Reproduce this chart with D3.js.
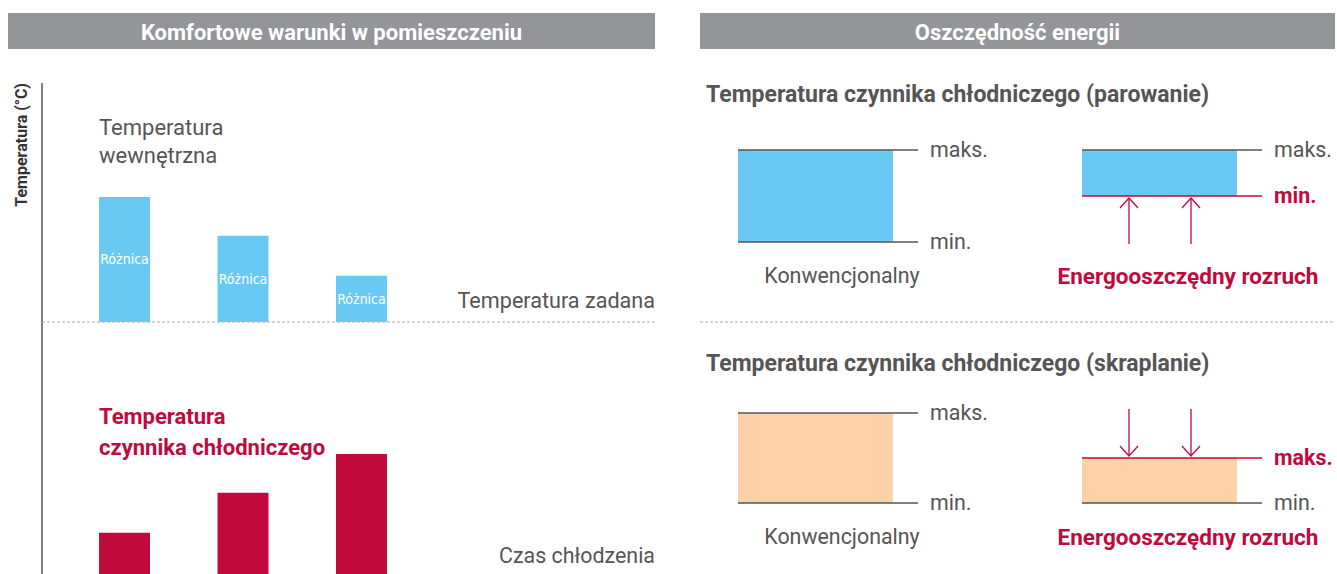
<!DOCTYPE html>
<html>
<head>
<meta charset="utf-8">
<script src="https://cdn.jsdelivr.net/npm/d3@7"></script>
<style>
  body { margin: 0; background: #fff; }
  svg { display: block; font-family: Roboto, "Noto Sans", sans-serif; }
</style>
</head>
<body>
<svg id="chart" width="1337" height="574"></svg>
<script>
// ---- data ----
const panelTitles = ['Komfortowe warunki w pomieszczeniu', 'Oszczędność energii'];
const steps = [0, 1, 2];
const indoorDiff = [100, 69, 37];        // blue bars above set point
const refrigTemp = [33, 65, 96];         // red bars, refrigerant temperature
const diffLabel = 'Różnica';

const modes = ['Konwencjonalny', 'Energooszczędny rozruch'];
const evapMin = [0, 5], evapMax = [10, 10];   // parowanie
const condMin = [0, 0], condMax = [10, 5];    // skraplanie
const sectionTitles = ['Temperatura czynnika chłodniczego (parowanie)',
                       'Temperatura czynnika chłodniczego (skraplanie)'];

const BLUE = '#69c9f2', RED = '#c1093c', PEACH = '#fdd2aa', GREY = '#555', HEAD = '#939598';

const svg = d3.select('#chart');

// ---- headers ----
const headers = [[8, 655], [700, 1335]];
headers.forEach((h, i) => {
  svg.append('rect').attr('x', h[0]).attr('y', 13).attr('width', h[1] - h[0]).attr('height', 36).attr('fill', HEAD);
  svg.append('text').attr('x', (h[0] + h[1]) / 2).attr('y', 40)
    .attr('text-anchor', 'middle').attr('fill', '#fff').attr('font-weight', 700).attr('font-size', 22)
    .text(panelTitles[i]);
});

// ---- left panel ----
const x = d3.scaleBand().domain(steps).range([31.5, 454.5]).padding(0.57);
const setY = 322;
const h = d3.scaleLinear().domain([0, 100]).range([0, 125]);

// axis
svg.append('line').attr('x1', 42).attr('x2', 42).attr('y1', 83).attr('y2', 574)
  .attr('stroke', '#555').attr('stroke-width', 1.5);
svg.append('text').attr('transform', 'translate(27,83) rotate(-90)').attr('text-anchor', 'end')
  .attr('font-size', 16).attr('font-weight', 700).attr('fill', '#333').text('Temperatura (°C)');

svg.append('line').attr('x1', 42).attr('x2', 655).attr('y1', setY).attr('y2', setY)
  .attr('stroke', '#aaa').attr('stroke-dasharray', '3,2');

svg.append('g').selectAll('rect').data(indoorDiff).join('rect')
  .attr('x', (d, i) => x(steps[i])).attr('width', x.bandwidth())
  .attr('y', d => setY - h(d)).attr('height', d => h(d)).attr('fill', BLUE);
svg.append('g').selectAll('text').data(indoorDiff).join('text')
  .attr('x', (d, i) => x(steps[i]) + x.bandwidth() / 2)
  .attr('y', d => setY - h(d) / 2).attr('dy', '0.35em').attr('text-anchor', 'middle')
  .attr('fill', '#fff').attr('font-size', 14).attr('font-family', '"Liberation Sans Narrow", "DejaVu Sans Condensed", sans-serif')
  .text(diffLabel);

svg.append('g').selectAll('rect').data(refrigTemp).join('rect')
  .attr('x', (d, i) => x(steps[i])).attr('width', x.bandwidth())
  .attr('y', d => 574 - h(d)).attr('height', d => h(d)).attr('fill', RED);

const inner = svg.append('text').attr('fill', GREY).attr('font-size', 22);
inner.append('tspan').attr('x', 99).attr('y', 135).text('Temperatura');
inner.append('tspan').attr('x', 99).attr('y', 163).text('wewnętrzna');

const refr = svg.append('text').attr('fill', RED).attr('font-size', 22).attr('font-weight', 700);
refr.append('tspan').attr('x', 99).attr('y', 424).text('Temperatura');
refr.append('tspan').attr('x', 99).attr('y', 455).text('czynnika chłodniczego');

svg.append('text').attr('x', 655).attr('y', 308).attr('text-anchor', 'end').attr('fill', GREY)
  .attr('font-size', 21.6).text('Temperatura zadana');
svg.append('text').attr('x', 655).attr('y', 563).attr('text-anchor', 'end').attr('fill', GREY)
  .attr('font-size', 21.4).text('Czas chłodzenia');

// ---- right panel ----
svg.append('line').attr('x1', 700).attr('x2', 1335).attr('y1', setY).attr('y2', setY)
  .attr('stroke', '#aaa').attr('stroke-dasharray', '3,2');

const mx = d3.scaleBand().domain(modes).range([738, 1426]);
const boxW = 155, lineExt = 25;

function section(title, titleY, top, bottom, mins, maxs, fill, dir) {
  const y = d3.scaleLinear().domain([0, 10]).range([bottom, top]);
  svg.append('text').attr('x', 706).attr('y', titleY).attr('fill', GREY)
    .attr('font-size', 23).attr('font-weight', 700).text(title);

  modes.forEach((m, i) => {
    const x0 = mx(m);
    const yMax = y(maxs[i]), yMin = y(mins[i]);
    svg.append('rect').attr('x', x0).attr('y', yMax).attr('width', boxW).attr('height', yMin - yMax).attr('fill', fill);
    const minHot = i === 1 && mins[i] > 0, maxHot = i === 1 && maxs[i] < 10;
    [[yMax, 'maks.', maxHot], [yMin, 'min.', minHot]].forEach(([yy, lab, hot]) => {
      svg.append('line').attr('x1', x0).attr('x2', x0 + boxW + lineExt).attr('y1', yy).attr('y2', yy)
        .attr('stroke', hot ? RED : GREY).attr('stroke-width', 1.5);
      svg.append('text').attr('x', x0 + boxW + lineExt + 12).attr('y', yy).attr('dy', '0.35em')
        .attr('fill', hot ? RED : GREY).attr('font-size', 21.4).attr('font-weight', hot ? 700 : 400).text(lab);
    });
    svg.append('text').attr('x', x0 + boxW / 2 + (i ? 28.5 : 26.5)).attr('y', bottom + 34).attr('dy', '0.35em')
      .attr('text-anchor', 'middle').attr('fill', i ? RED : GREY).attr('font-size', i ? 22.5 : 21.4)
      .attr('font-weight', i ? 700 : 400).text(m);

    if (i === 1) {
      [47, 109].forEach(ax => {
        const ax0 = x0 + ax;
        let tipY, tailY;
        if (dir === 'up') { tipY = yMin + 2; tailY = bottom + 2; }
        else { tipY = yMax - 2; tailY = top - 4; }
        const s = dir === 'up' ? 1 : -1;
        svg.append('line').attr('x1', ax0).attr('x2', ax0).attr('y1', tailY).attr('y2', tipY)
          .attr('stroke', RED).attr('stroke-width', 1.3);
        svg.append('path').attr('d', `M${ax0 - 9},${tipY + s * 10}L${ax0},${tipY}L${ax0 + 9},${tipY + s * 10}`)
          .attr('fill', 'none').attr('stroke', RED).attr('stroke-width', 1.3);
      });
    }
  });
}

section(sectionTitles[0], 102, 150, 242, evapMin, evapMax, BLUE, 'up');
section(sectionTitles[1], 371, 413, 503, condMin, condMax, PEACH, 'down');
</script>
</body>
</html>
